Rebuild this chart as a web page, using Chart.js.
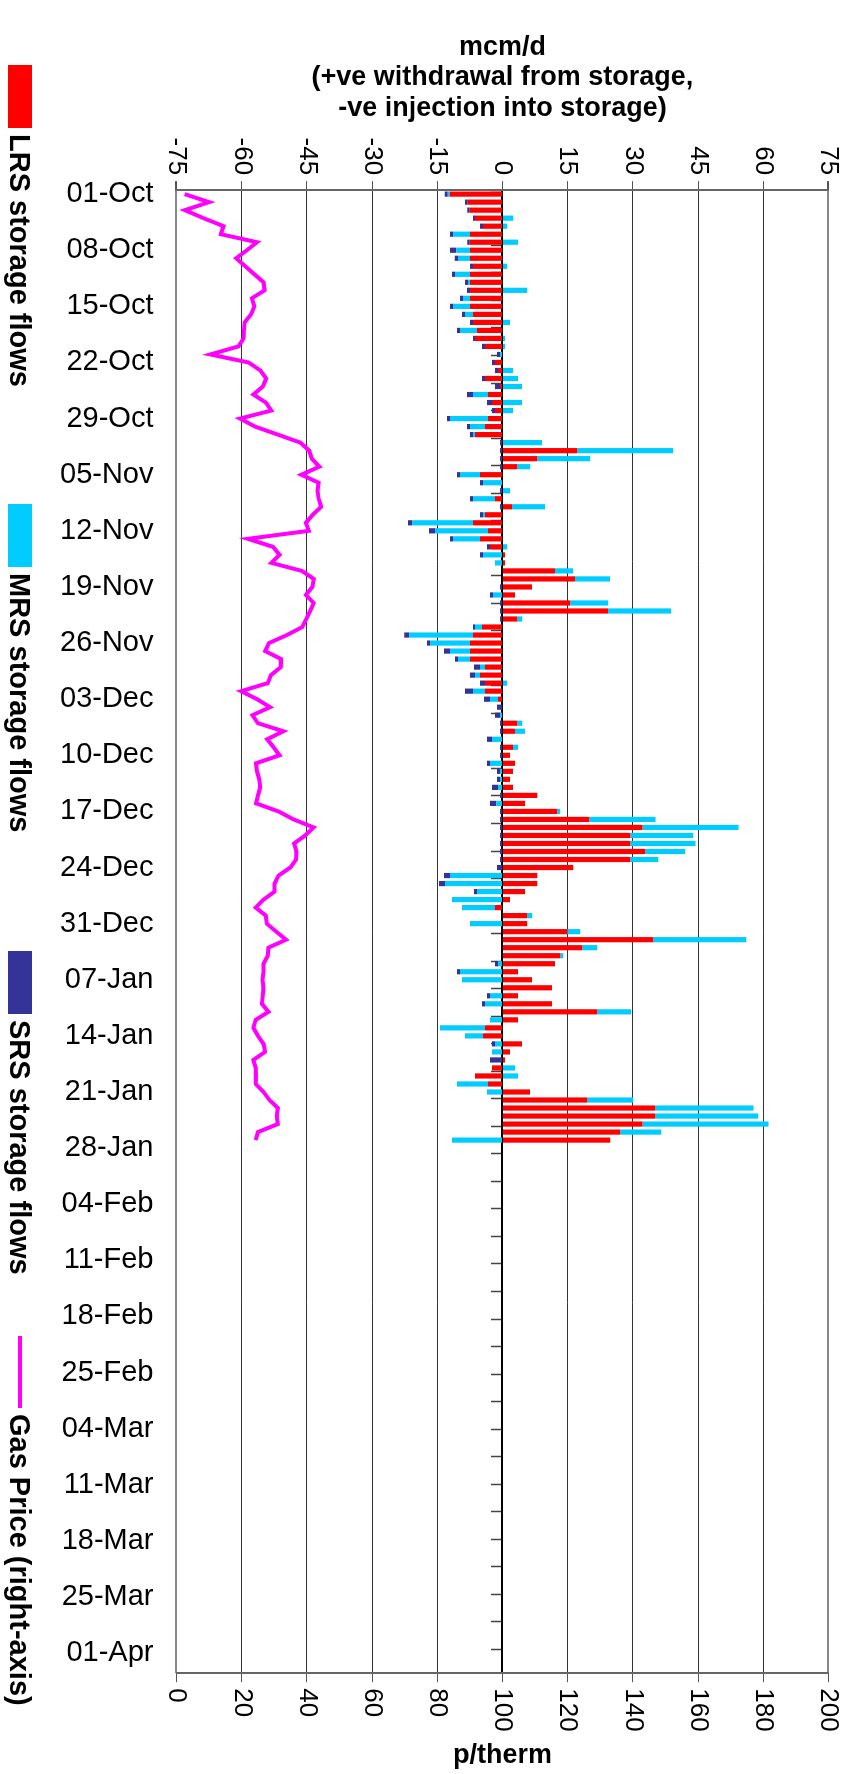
<!DOCTYPE html>
<html lang="en">
<head>
<meta charset="UTF-8">
<title>Storage flows and gas price</title>
<script src="https://cdn.jsdelivr.net/npm/chart.js"></script>
<style>
  html, body {
    margin: 0;
    width: 850px;
    height: 1774px;
    overflow: hidden;
    background: #fff;
  }
  /* the chart is drawn landscape and turned a quarter clockwise */
  #wrap {
    position: absolute;
    left: 0;
    top: 0;
    width: 1774px;
    height: 850px;
    transform-origin: 0 0;
    transform: translate(850px, 0) rotate(90deg);
  }
  #legend {
    position: absolute;
    left: 0;
    top: 818px;
    width: 1774px;
    height: 24px;
    font: bold 29px 'Liberation Sans', Arial, sans-serif;
    color: #000;
  }
  #legend .item {
    position: absolute;
    top: 0;
    height: 24px;
    display: flex;
    align-items: center;
    white-space: nowrap;
  }
  #legend .key {
    display: inline-block;
    width: 63px;
    height: 24px;
    margin-right: 6px;
  }
  #legend .key.line {
    width: 72px;
    height: 4px;
  }
</style>
</head>
<body>
<div id="wrap">
  <canvas id="flowChart" width="1774" height="850"></canvas>
  <div id="legend"></div>
</div>
<script>
// one value per day from 01-Oct, mcm/d (+ withdrawal, - injection)
const lrsFlow = [
  -12.1, -8.0, -7.5, -6.3, -4.45, -7.45, -7.5, -7.45, -7.45, -6.75,
  -7.45, -7.45, -7.45, -7.45, -7.45, -6.75, -6.75, -5.85, -6.3, -4.0,
  0, -1.7, -1.0, -4.0, -0.54, -3.3, -2.4, -1.7, -3.3, -4.0,
  -6.3, 0, 17.2, 8.0, 3.4, -5.15, 0, 0, -1.7, 2.2,
  -4.0, -6.75, -3.3, -5.15, -2.85, 0.6, 0.6, 12.1, 16.7, 6.8,
  2.9, 15.6, 24.3, 3.4, -4.7, -6.75, -7.45, -7.45, -7.45, -4.0,
  -5.15, -4.0, -4.0, -1.0, 0, 0, 3.4, 2.9, 0, 2.45,
  1.75, 2.9, 2.45, 1.75, 2.45, 8.0, 5.2, 12.6, 20.0, 32.2,
  29.4, 29.4, 32.85, 29.4, 16.3, 8.0, 8.0, 5.2, 1.75, -1.7,
  5.7, 5.7, 14.9, 34.7, 18.35, 13.3, 12.1, 3.6, 6.8, 11.4,
  3.6, 11.4, 21.8, 3.6, -4.0, -4.45, 4.5, 1.75, 0.6, -2.4,
  -6.3, -3.3, 6.35, 19.5, 35.15, 35.15, 32.2, 27.1, 24.8
];
const mrsFlow = [
  -0.46, 0, 0, 2.5, 1.1, -3.9, 3.6, -3.2, -2.8, 1.1,
  -3.45, -0.46, 5.7, -1.6, -3.9, -1.85, 1.75, -3.9, 0.6, 0.6,
  -0.54, 0, 2.45, 3.6, 4.5, -3.45, 4.5, 2.45, -8.75, -3.45,
  -0.46, 9.1, 22.1, 12.2, 3.0, -4.6, -4.45, 1.75, -5.05, 7.6,
  -0.46, -14.0, -12.2, -6.2, 1.1, -4.45, -1.7, 4.15, 8.05, 0,
  -2.15, 8.75, 14.5, 1.15, -1.6, -14.7, -9.2, -4.6, -2.75, -1.15,
  -1.15, 1.1, -2.75, -1.85, 0, -0.54, 1.15, 2.3, -2.4, 1.15,
  0, -2.85, -0.54, -0.54, -1.0, 0, -1.45, 0.7, 15.2, 22.1,
  14.5, 15.0, 9.2, 6.45, 0, -12.05, -13.2, -5.85, -11.6, -7.6,
  1.15, -7.45, 3.0, 21.4, 3.45, 0.7, -1.0, -9.75, -9.3, 0,
  -2.85, -4.0, 7.8, -2.85, -10.35, -4.15, -1.7, -2.4, 0, 2.9,
  3.6, -7.15, -3.55, 10.6, 22.6, 23.7, 29.0, 9.45, -11.6
];
const srsFlow = [
  -0.69, -0.6, -0.6, -0.46, -0.7, -0.7, -0.6, -1.4, -0.7, -0.7,
  -0.7, -0.7, -0.7, -0.7, -0.7, -0.7, -0.7, -0.7, -0.46, -0.7,
  -0.7, -0.7, -0.7, -0.7, -1.15, -1.4, -1.15, -0.7, -0.7, -0.7,
  -0.7, -0.54, -0.54, -0.54, -0.54, -0.7, -0.7, -0.54, -0.7, -0.54,
  -0.7, -1.0, -1.4, -0.7, -0.7, -0.7, 0, 0, 0, -0.54,
  -0.7, -0.54, -0.54, -0.54, -0.46, -1.15, -0.7, -1.4, -0.7, -1.4,
  -1.15, -1.15, -1.85, -1.4, -1.25, -1.15, -0.54, -0.54, -1.15, -0.54,
  -0.54, -0.7, -0.7, -0.7, -1.4, -0.54, -1.4, -0.54, -0.54, -0.54,
  -0.54, -0.54, -0.54, -0.54, -1.25, -1.4, -1.4, -0.7, 0, 0,
  0, 0, 0, 0, 0, 0, -0.7, -0.7, 0, 0,
  -0.7, -0.7, 0, 0, 0, 0, -0.7, 0, -2.85, 0,
  0, 0, 0, 0, 0, 0, 0, 0, 0
];
// p/therm
const gasPrice = [
  2.5, 10.0, 2.6, 8.3, 14.4, 13.6, 24.7, 21.6, 18.3, 21.1,
  23.9, 26.7, 27.0, 23.1, 23.9, 22.9, 20.9, 20.7, 20.6, 19.0,
  10.4, 22.1, 25.7, 27.5, 26.5, 23.6, 27.4, 29.1, 19.5, 24.1,
  31.1, 38.0, 40.7, 41.5, 43.8, 38.3, 43.6, 43.3, 43.6, 44.4,
  41.8, 39.7, 40.6, 21.9, 29.6, 31.6, 29.1, 38.5, 42.1, 41.7,
  39.7, 42.1, 41.0, 39.8, 38.6, 33.9, 28.4, 27.2, 32.1, 32.0,
  29.0, 28.0, 19.8, 24.7, 28.7, 23.3, 25.0, 32.8, 27.8, 29.8,
  31.6, 24.4, 24.7, 25.4, 25.7, 25.0, 24.4, 31.3, 35.9, 42.1,
  39.5, 36.1, 36.8, 36.7, 34.9, 31.3, 30.1, 30.1, 26.7, 24.3,
  27.4, 27.7, 30.6, 33.6, 28.2, 28.0, 26.7, 26.7, 26.4, 26.7,
  26.5, 26.2, 28.2, 24.3, 23.6, 25.0, 26.7, 27.2, 23.6, 24.3,
  24.4, 24.3, 26.7, 28.5, 31.1, 30.8, 31.1, 25.0, 24.3
];

const flowTicks = [-75, -60, -45, -30, -15, 0, 15, 30, 45, 60, 75];
const priceTicks = [0, 20, 40, 60, 80, 100, 120, 140, 160, 180, 200];

// daily categories 01-Oct .. 03-Apr, labelled weekly
const monthNames = ['Jan', 'Feb', 'Mar', 'Apr', 'May', 'Jun', 'Jul', 'Aug', 'Sep', 'Oct', 'Nov', 'Dec'];
const dayLabels = [];
const firstDay = Date.UTC(2005, 9, 1);
for (let i = 0; i < 185; i++) {
  const d = new Date(firstDay + i * 86400000);
  dayLabels.push(String(d.getUTCDate()).padStart(2, '0') + '-' + monthNames[d.getUTCMonth()]);
}
const labelEvery = 7;
// small marks on the zero line, every half week
const zeroMarks = [];
for (let v = -0.5; v <= dayLabels.length - 0.5; v += 3.5) zeroMarks.push(v);

Chart.defaults.font.family = "'Liberation Sans', Arial, sans-serif";
Chart.defaults.color = '#000';

const rightTitle = {
  id: 'rightTitle',
  afterDraw(chart) {
    const s = chart.scales.y2;
    const ctx = chart.ctx;
    ctx.save();
    ctx.font = "bold 27px 'Liberation Sans', Arial, sans-serif";
    ctx.fillStyle = '#000';
    ctx.textAlign = 'center';
    ctx.textBaseline = 'middle';
    ctx.translate(s.right - 18, (s.top + s.bottom) / 2);
    ctx.rotate(-Math.PI / 2);
    ctx.fillText('p/therm', 0, 0);
    ctx.restore();
  }
};

const edge = (c, a, b) => (c.index === 0 || c.index === flowTicks.length - 1) ? a : b;

const chart = new Chart(document.getElementById('flowChart'), {
  type: 'bar',
  data: {
    labels: dayLabels,
    datasets: [
      { label: 'LRS storage flows', data: lrsFlow, backgroundColor: '#FF0000', xAxisID: 'x', yAxisID: 'y' },
      { label: 'MRS storage flows', data: mrsFlow, backgroundColor: '#00CCFF', xAxisID: 'x', yAxisID: 'y' },
      { label: 'SRS storage flows', data: srsFlow, backgroundColor: '#333399', xAxisID: 'x', yAxisID: 'y' },
      {
        type: 'line', label: 'Gas Price (right-axis)', data: gasPrice,
        borderColor: '#FF00FF', backgroundColor: '#FF00FF', borderWidth: 4,
        pointRadius: 0, tension: 0, fill: false, xAxisID: 'x', yAxisID: 'y2'
      }
    ]
  },
  options: {
    responsive: false,
    animation: false,
    barPercentage: 0.65,
    categoryPercentage: 1.0,
    layout: { padding: { left: 32, right: 0, top: 21, bottom: 37 } },
    plugins: {
      legend: { display: false },
      tooltip: { enabled: false }
    },
    scales: {
      x: {
        type: 'category',
        position: 'bottom',
        stacked: true,
        offset: true,
        grid: { display: false, drawTicks: false },
        border: { display: false },
        ticks: {
          autoSkip: false,
          minRotation: 90,
          maxRotation: 90,
          padding: 23,
          font: { size: 29 },
          callback: (v, i) => (i % labelEvery === 0 ? dayLabels[i] : '')
        }
      },
      x2: {
        type: 'linear',
        axis: 'x',
        position: { y: 0 },
        min: -0.5,
        max: dayLabels.length - 0.5,
        z: 1,
        afterBuildTicks: s => { s.ticks = zeroMarks.map(v => ({ value: v })); },
        ticks: { display: false },
        grid: { drawOnChartArea: false, drawTicks: true, tickLength: 10, tickColor: '#444', tickWidth: 1.5 },
        border: { display: true, color: '#000', width: 2 }
      },
      y: {
        type: 'linear',
        position: 'left',
        stacked: true,
        min: -75,
        max: 75,
        afterBuildTicks: s => { s.ticks = flowTicks.map(v => ({ value: v })); },
        ticks: { font: { size: 26 }, padding: 6 },
        grid: {
          color: c => edge(c, '#888', '#333'),
          lineWidth: c => edge(c, 2, 1),
          tickLength: 9,
          tickColor: '#555'
        },
        border: { display: true, color: '#666', width: 2 },
        title: {
          display: true,
          text: ['mcm/d', '(+ve withdrawal from storage,', '-ve injection into storage)'],
          font: { size: 27, weight: 'bold', lineHeight: 1.13 },
          padding: { top: 0, bottom: 8 }
        }
      },
      y2: {
        type: 'linear',
        position: 'right',
        min: 0,
        max: 200,
        afterBuildTicks: s => { s.ticks = priceTicks.map(v => ({ value: v })); },
        ticks: { font: { size: 26 }, padding: 6 },
        grid: { drawOnChartArea: false, tickLength: 9, tickColor: '#555' },
        border: { display: true, color: '#666', width: 2 },
        title: {
          display: true,
          text: 'p/therm',
          color: 'rgba(0,0,0,0)',
          font: { size: 27, weight: 'bold' },
          padding: { top: 4, bottom: 0 }
        }
      }
    }
  },
  plugins: [rightTitle]
});

// legend
const legendLeft = [65, 504, 951, 1336];
const legend = document.getElementById('legend');
chart.data.datasets.forEach((ds, i) => {
  const item = document.createElement('div');
  item.className = 'item';
  item.style.left = legendLeft[i] + 'px';
  const key = document.createElement('span');
  key.className = ds.type === 'line' ? 'key line' : 'key';
  key.style.background = ds.type === 'line' ? ds.borderColor : ds.backgroundColor;
  const text = document.createElement('span');
  text.textContent = ds.label;
  item.appendChild(key);
  item.appendChild(text);
  legend.appendChild(item);
});
</script>
</body>
</html>
